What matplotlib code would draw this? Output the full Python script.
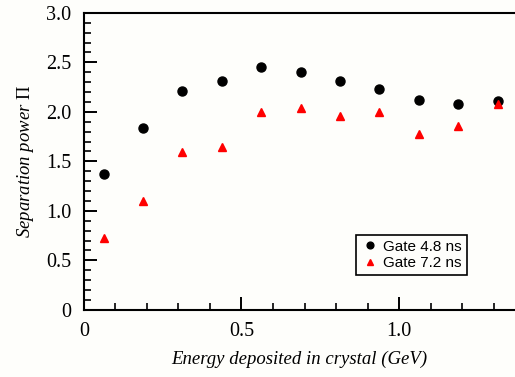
import numpy as np
import matplotlib
matplotlib.use("Agg")
import matplotlib.pyplot as plt
from matplotlib.ticker import MultipleLocator

plt.rcParams["mathtext.fontset"] = "custom"
plt.rcParams["mathtext.rm"] = "Liberation Serif"

# energy bins (GeV) and separation power for both gate widths
energy = [0.0625, 0.1875, 0.3125, 0.4375, 0.5625, 0.6875, 0.8125, 0.9375, 1.0625, 1.1875, 1.3125]
gate_48 = [1.37, 1.84, 2.21, 2.31, 2.45, 2.40, 2.31, 2.23, 2.12, 2.08, 2.11]
gate_72 = [0.73, 1.10, 1.59, 1.65, 2.00, 2.04, 1.96, 2.00, 1.78, 1.86, 2.08]

bg = "#fefefb"
fig = plt.figure(figsize=(5.15, 3.77), dpi=100, facecolor=bg)
ax = fig.add_axes([0.163, 0.178, 0.837, 0.788], facecolor=bg)

ax.plot(energy, gate_48, "o", color="black", markersize=6.5, label="Gate 4.8 ns")
ax.plot(energy, gate_72, "^", color="red", markersize=5.5, label="Gate 7.2 ns")

ax.set_xlim(0, 1.368)
ax.set_ylim(0, 3.0)
ax.xaxis.set_minor_locator(MultipleLocator(0.1))
ax.yaxis.set_minor_locator(MultipleLocator(0.1))
ax.set_xticks([0, 0.5, 1.0])
ax.set_xticklabels(["0", "0.5", "1.0"])
ax.set_yticks([0, 0.5, 1.0, 1.5, 2.0, 2.5, 3.0])
ax.set_yticklabels(["0", "0.5", "1.0", "1.5", "2.0", "2.5", "3.0"])

ax.spines["right"].set_visible(False)
for s in ["left", "bottom", "top"]:
    ax.spines[s].set_linewidth(1.5)
ax.tick_params(which="major", direction="in", length=9.5, width=1.4, pad=9,
               labelsize=14.5, top=False, right=False)
ax.tick_params(which="minor", direction="in", length=5, width=1.2, top=False, right=False)
for lab in ax.get_xticklabels() + ax.get_yticklabels():
    lab.set_family("Liberation Serif")

ax.set_xlabel("Energy deposited in crystal (GeV)", family="Liberation Serif",
              style="italic", fontsize=13.5, labelpad=7)
ax.set_ylabel(r"Separation power $\mathrm{\Pi}$", family="Liberation Serif",
              style="italic", fontsize=13.5, labelpad=7)

leg = ax.legend(loc="lower left", bbox_to_anchor=(0.613, 0.093), frameon=True,
                fancybox=False, prop={"family": "Liberation Sans", "size": 11},
                handletextpad=0.3, handlelength=1.2, borderpad=0.3,
                labelspacing=0.15, markerscale=0.75)
leg.get_frame().set_edgecolor("black")
leg.get_frame().set_linewidth(1.2)
leg.get_frame().set_facecolor(bg)
leg.get_frame().set_alpha(1)

fig.savefig("out.png", dpi=100, facecolor=bg)
